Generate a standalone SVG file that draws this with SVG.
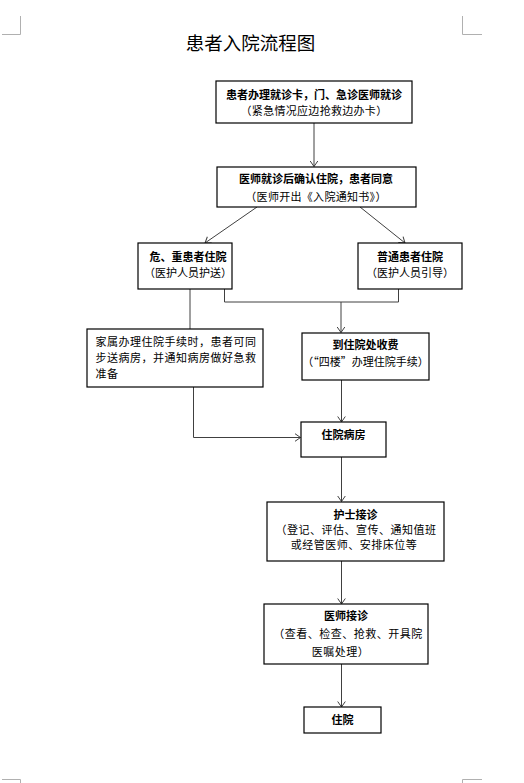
<svg xmlns="http://www.w3.org/2000/svg" width="524" height="783" viewBox="0 0 524 783">
<style>
text{font-family:"Noto Sans CJK SC","Noto Sans",sans-serif;fill:#000;font-size:11px}
.t{text-anchor:middle}
.b{font-weight:bold}
.box{fill:#fff;stroke:#000;stroke-width:1.2}
.c{fill:none;stroke:#404040;stroke-width:1}
.mark{fill:none;stroke:#b0b0b0;stroke-width:1}
</style>
<defs>
<marker id="arr" markerUnits="userSpaceOnUse" markerWidth="10" markerHeight="10" viewBox="0 0 10 10" refX="9" refY="5" orient="auto">
<path d="M3.5,1.2 L9,5 L3.5,8.8" fill="none" stroke="#404040" stroke-width="1"/>
</marker>
</defs>
<rect width="524" height="783" fill="#fff"/>
<g id="corners">
<path class="mark" d="M20.5,16 V34.5 H2 M462.5,16 V34.5 H482 M20.5,783 V779.5 H2 M462.5,783 V779.5 H482"/>
</g>
<text x="250.5" y="50" class="t" style="font-size:18.5px">患者入院流程图</text>
<g id="connectors">
<path class="c" d="M314,123 V166.5" marker-end="url(#arr)"/>
<path class="c" d="M257,207 L205,243" marker-end="url(#arr)"/>
<path class="c" d="M360,207 L405,243" marker-end="url(#arr)"/>
<path class="c" d="M190,289 V329"/>
<path class="c" d="M224.5,289 V302 H398.5 V289"/>
<path class="c" d="M341,302 V332.5" marker-end="url(#arr)"/>
<path class="c" d="M193.5,387 V437.5 H300.5" marker-end="url(#arr)"/>
<path class="c" d="M341.5,380 V422" marker-end="url(#arr)"/>
<path class="c" d="M341.5,457 V501.5" marker-end="url(#arr)"/>
<path class="c" d="M341.5,561 V604" marker-end="url(#arr)"/>
<path class="c" d="M341.5,664 V707" marker-end="url(#arr)"/>
</g>
<g id="n1">
<rect class="box" x="216" y="81" width="196" height="42"/>
<text x="314" y="99" class="t b">患者办理就诊卡，门、急诊医师就诊</text>
<text x="314" y="115" class="t" style="letter-spacing:0.3px">（紧急情况应边抢救边办卡）</text>
</g>
<g id="n2">
<rect class="box" x="217" y="167" width="199" height="40"/>
<text x="316" y="183" class="t b">医师就诊后确认住院，患者同意</text>
<text x="316" y="201" class="t" style="letter-spacing:0.3px">（医师开出《入院通知书》）</text>
</g>
<g id="n3">
<rect class="box" x="138" y="243" width="94" height="46"/>
<text x="188" y="261" class="t b">危、重患者住院</text>
<text x="188" y="277" class="t">（医护人员护送）</text>
</g>
<g id="n4">
<rect class="box" x="358" y="243" width="104" height="46"/>
<text x="410" y="261" class="t b">普通患者住院</text>
<text x="410" y="277" class="t">（医护人员引导）</text>
</g>
<g id="n5">
<rect class="box" x="87" y="329" width="176" height="58"/>
<text x="95.5" y="346" style="letter-spacing:0.5px">家属办理住院手续时，患者可同</text>
<text x="95.5" y="362" style="letter-spacing:0.5px">步送病房，并通知病房做好急救</text>
<text x="95.5" y="378" style="letter-spacing:0.5px">准备</text>
</g>
<g id="n6">
<rect class="box" x="302" y="333" width="127" height="47"/>
<text x="365.5" y="348.5" class="t b">到住院处收费</text>
<text x="365.5" y="366" class="t">（“四楼”办理住院手续）</text>
</g>
<g id="n7">
<rect class="box" x="301" y="422" width="85" height="35"/>
<text x="343.5" y="439" class="t b">住院病房</text>
</g>
<g id="n8">
<rect class="box" x="267" y="502" width="177" height="59"/>
<text x="355.5" y="518.5" class="t b">护士接诊</text>
<text x="356" y="533.5" class="t" style="letter-spacing:0.5px">（登记、评估、宣传、通知值班</text>
<text x="354" y="549" class="t" style="letter-spacing:0.5px">或经管医师、安排床位等</text>
</g>
<g id="n9">
<rect class="box" x="264" y="604" width="164" height="60"/>
<text x="346" y="620" class="t b">医师接诊</text>
<text x="348" y="637.5" class="t" style="letter-spacing:0.5px">（查看、检查、抢救、开具院</text>
<text x="340.5" y="656" class="t" style="letter-spacing:0.5px">医嘱处理）</text>
</g>
<g id="n10">
<rect class="box" x="304" y="707" width="77" height="26"/>
<text x="342.5" y="724" class="t b">住院</text>
</g>
</svg>
